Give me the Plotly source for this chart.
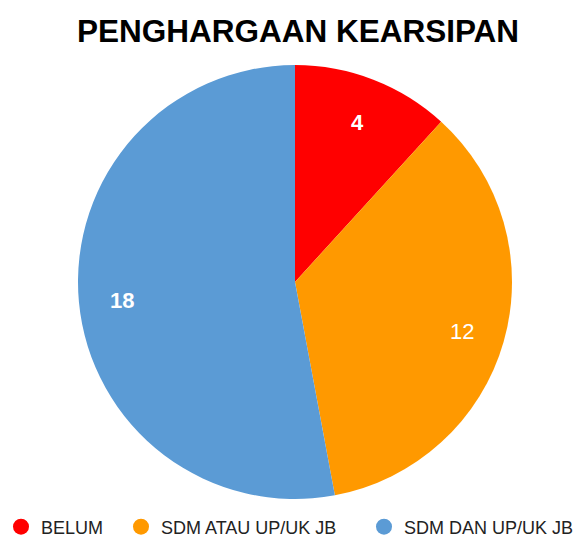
import math
import plotly.graph_objects as go

labels = ["BELUM", "SDM ATAU UP/UK JB", "SDM DAN UP/UK JB"]
values = [4, 12, 18]
colors = ["#FF0000", "#FF9900", "#5B9BD5"]
bold = [True, False, True]

W, H = 580, 539
cx, cy, r = 295, 282, 217       # visible pie geometry (pixels)
label_r = 0.80 * r
legend_centers = [21, 141, 384]  # pixel x of each legend symbol

fig = go.Figure()
fig.add_trace(go.Pie(
    labels=labels, values=values, textinfo="none",
    marker=dict(colors=colors, line=dict(width=0)),
    sort=False, direction="clockwise", rotation=0,
    showlegend=False, hoverinfo="label+value",
    domain=dict(x=[(cx - r) / W, (cx + r) / W],
                y=[1 - (cy + r) / H, 1 - (cy - r) / H]),
))

legend_names = ["legend", "legend2", "legend3"]
for lab, col, lg in zip(labels, colors, legend_names):
    fig.add_trace(go.Scatter(x=[None], y=[None], mode="markers", name=lab, legend=lg,
                             marker=dict(color=col, size=19, symbol="circle")))

# slice labels placed on each slice bisector
total = sum(values)
cum = 0
annotations = []
for v, b in zip(values, bold):
    mid = (cum + v / 2) / total * 2 * math.pi
    cum += v
    px = cx + label_r * math.sin(mid)
    py = cy - label_r * math.cos(mid)
    annotations.append(dict(
        x=px / W, y=1 - py / H, xref="paper", yref="paper", showarrow=False,
        text=f"<b>{v}</b>" if b else f"{v}", yshift=-2,
        font=dict(family="Liberation Sans, Arial", size=22, color="white"),
        xanchor="center", yanchor="middle"))

legend_common = dict(orientation="h", xanchor="left", yanchor="middle", y=1 - 527 / H,
                     font=dict(family="Liberation Sans, Arial", size=18, color="#222222"),
                     bgcolor="rgba(0,0,0,0)", itemsizing="trace")

fig.update_layout(
    width=W, height=H,
    margin=dict(l=0, r=0, t=0, b=0, autoexpand=False),
    paper_bgcolor="white", plot_bgcolor="white",
    title=dict(text="<b>PENGHARGAAN KEARSIPAN</b>", x=298 / W, xanchor="center", y=1 - 31 / H, yanchor="middle",
               font=dict(family="Liberation Sans, Arial", size=31.5, color="black")),
    xaxis=dict(visible=False), yaxis=dict(visible=False),
    annotations=annotations,
    legend=dict(x=(legend_centers[0] - 20) / W, **legend_common),
    legend2=dict(x=(legend_centers[1] - 20) / W, **legend_common),
    legend3=dict(x=(legend_centers[2] - 20) / W, **legend_common),
)
fig.write_html("out.html", config={"displayModeBar": False},
               post_script="document.body.style.margin='0';")
